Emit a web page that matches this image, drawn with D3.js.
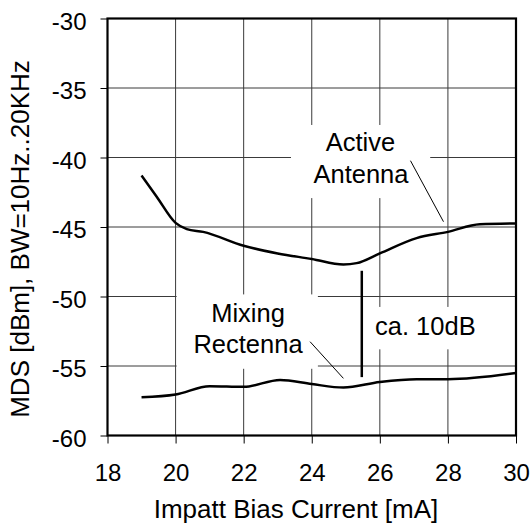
<!DOCTYPE html>
<html><head><meta charset="utf-8">
<script src="https://cdn.jsdelivr.net/npm/d3@7"></script>
<style>body{margin:0;background:#fff;} text{font-family:"Liberation Sans",Arial,sans-serif;fill:#000;}</style>
</head><body>
<svg id="c" width="532" height="524"></svg>
<script>
const xTicks = [18, 20, 22, 24, 26, 28, 30];
const yTicks = [-60, -55, -50, -45, -40, -35, -30];
const activeX = [19, 19.44, 20, 20.33, 20.81, 22, 23, 24, 24.93, 25.32, 26, 27.08, 28, 28.94, 30];
const activeY = [-41.3, -42.8, -44.7, -45.15, -45.35, -46.35, -46.9, -47.3, -47.7, -47.6, -46.9, -45.8, -45.35, -44.8, -44.75];
const mixingX = [19, 20, 21, 22, 23.07, 24, 24.93, 26, 27.08, 28, 30];
const mixingY = [-57.25, -57.05, -56.45, -56.5, -56.0, -56.3, -56.55, -56.15, -55.95, -55.95, -55.5];
const gapX = [25.47];
const gapY = [-48.15, -55.8];

const svg = d3.select("#c");
const L = 107.5, R = 516, T = 18.5, B = 435.5;
const x = d3.scaleLinear().domain([18, 30]).range([L, R]);
const y = d3.scaleLinear().domain([-60, -30]).range([B, T]);

// grid
const g = svg.append("g");
g.selectAll("line.v").data(xTicks).join("line")
  .attr("x1", d => x(d)).attr("x2", d => x(d)).attr("y1", T).attr("y2", B)
  .attr("stroke", "#3a3a3a").attr("stroke-width", 1);
g.selectAll("line.h").data(yTicks).join("line")
  .attr("y1", d => y(d)).attr("y2", d => y(d)).attr("x1", L).attr("x2", R)
  .attr("stroke", "#3a3a3a").attr("stroke-width", 1);

// white label boxes (data coordinates)
const boxes = [
  [23.39, 27.48, -37.66, -42.92],
  [20.03, 24.18, -49.85, -55.2],
  [25.65, 28.7, -50.75, -53.8]
];
svg.selectAll("rect.box").data(boxes).join("rect")
  .attr("x", d => x(d[0])).attr("width", d => x(d[1]) - x(d[0]))
  .attr("y", d => y(d[2])).attr("height", d => y(d[3]) - y(d[2]))
  .attr("fill", "#fff");

// axes
const xAxis = d3.axisBottom(x).tickValues(xTicks).tickSize(8).tickPadding(20).tickFormat(d3.format("d"));
const yAxis = d3.axisLeft(y).tickValues(yTicks).tickSize(7).tickPadding(14).tickFormat(d => d3.format("d")(d).replace("−", "-"));
const gx = svg.append("g").attr("transform", `translate(0,${B})`).call(xAxis);
const gy = svg.append("g").attr("transform", `translate(${L},0)`).call(yAxis);
[gx, gy].forEach(a => {
  a.select(".domain").remove();
  a.selectAll(".tick line").attr("stroke", "#000").attr("stroke-width", 1);
  a.selectAll(".tick text").attr("font-size", 24).attr("font-family", "Liberation Sans, Arial, sans-serif").attr("fill", "#000");
});
gy.selectAll(".tick text").attr("dy", "0.44em");
gx.selectAll(".tick text").attr("dy", "0.71em");

// frame
svg.append("rect").attr("x", L).attr("y", T).attr("width", R - L).attr("height", B - T)
  .attr("fill", "none").attr("stroke", "#000").attr("stroke-width", 2.2);

// curves
const line = d3.line().x(d => x(d[0])).y(d => y(d[1])).curve(d3.curveMonotoneX);
svg.append("path").attr("d", line(d3.zip(activeX, activeY)))
  .attr("fill", "none").attr("stroke", "#000").attr("stroke-width", 2.5);
svg.append("path").attr("d", line(d3.zip(mixingX, mixingY)))
  .attr("fill", "none").attr("stroke", "#000").attr("stroke-width", 2.5);

// gap bar
svg.append("line").attr("x1", x(gapX[0])).attr("x2", x(gapX[0]))
  .attr("y1", y(gapY[0])).attr("y2", y(gapY[1]))
  .attr("stroke", "#000").attr("stroke-width", 2.5);

// leader lines
const leaders = [[26.9, -40.23, 27.87, -44.62], [23.95, -53.25, 24.93, -55.89]];
svg.selectAll("line.lead").data(leaders).join("line")
  .attr("x1", d => x(d[0])).attr("y1", d => y(d[1])).attr("x2", d => x(d[2])).attr("y2", d => y(d[3]))
  .attr("stroke", "#000").attr("stroke-width", 1);

// annotation text
const ann = [
  ["Active", 360.5, 150.5, "middle"],
  ["Antenna", 361, 182.5, "middle"],
  ["Mixing", 248, 321.5, "middle"],
  ["Rectenna", 248, 353.3, "middle"],
  ["ca. 10dB", 375, 335, "start"]
];
svg.selectAll("text.ann").data(ann).join("text")
  .attr("x", d => d[1]).attr("y", d => d[2]).attr("text-anchor", d => d[3])
  .attr("font-size", 25.5).text(d => d[0]);

// axis titles
svg.append("text").attr("x", 296).attr("y", 517.5).attr("text-anchor", "middle")
  .attr("font-size", 26).text("Impatt Bias Current [mA]");
svg.append("text").attr("transform", `translate(29,239) rotate(-90)`).attr("text-anchor", "middle")
  .attr("font-size", 26).text("MDS [dBm], BW=10Hz..20KHz");
</script>
</body></html>
